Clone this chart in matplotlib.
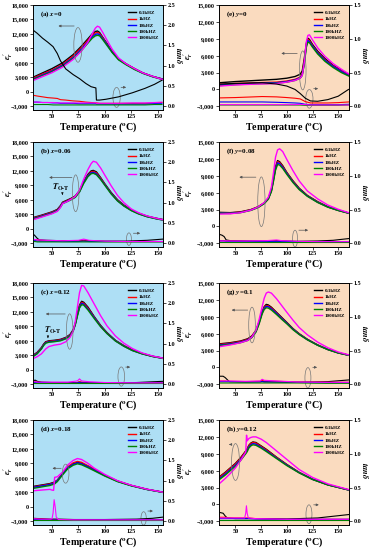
import numpy as np
import matplotlib.pyplot as plt
from matplotlib.patches import Ellipse
from matplotlib.ticker import FuncFormatter, MultipleLocator

plt.rcParams['font.family'] = ['Liberation Serif', 'DejaVu Serif']
plt.rcParams['font.weight'] = 'bold'
plt.rcParams['mathtext.fontset'] = 'stix'
plt.rcParams['axes.linewidth'] = 0.6

freqs = ['0.1kHZ', '1kHZ', '10kHZ', '100kHZ', '1000kHZ']
colors = ['black', 'red', 'blue', 'green', 'magenta']

# ---- (a) x=0
T_a = [32, 40, 50, 60, 70, 78, 84, 88, 91, 93, 95, 98, 102, 107, 113, 120, 128, 136, 145, 155]
eps_a = [
    [3000, 3800, 4800, 6000, 7700, 9500, 11000, 12000, 12500, 12600, 12300, 11300, 10000, 8300, 6800, 5800, 4800, 3900, 3200, 2600],
    [2800, 3600, 4500, 5700, 7400, 9200, 10700, 11700, 12200, 12300, 12100, 11200, 9900, 8250, 6750, 5750, 4780, 3880, 3180, 2590],
    [2600, 3400, 4300, 5500, 7100, 8900, 10400, 11400, 11900, 12000, 11850, 11000, 9800, 8200, 6700, 5700, 4700, 3850, 3150, 2550],
    [2500, 3250, 4150, 5300, 6900, 8600, 10100, 11100, 11600, 11700, 11600, 10800, 9600, 8100, 6600, 5600, 4600, 3800, 3100, 2500],
    [2300, 3050, 3950, 5100, 6700, 8500, 10300, 12000, 13200, 13600, 13400, 12300, 10700, 8800, 7000, 5800, 4800, 3900, 3200, 2500],
]
Tt_a = [32, 36, 41, 46, 51, 55, 58, 63, 70, 76, 82, 87, 91.5, 92, 95, 101, 113, 126, 138, 147, 154]
tan_a = [
    [1.88, 1.80, 1.68, 1.58, 1.47, 1.30, 1.12, 0.92, 0.78, 0.68, 0.56, 0.48, 0.45, 0.15, 0.15, 0.17, 0.23, 0.33, 0.44, 0.54, 0.64],
    [0.27, 0.25, 0.23, 0.21, 0.20, 0.19, 0.16, 0.15, 0.13, 0.12, 0.10, 0.09, 0.08, 0.08, 0.07, 0.07, 0.07, 0.07, 0.07, 0.08, 0.09],
    [0.10, 0.10, 0.09, 0.09, 0.08, 0.08, 0.07, 0.07, 0.07, 0.06, 0.06, 0.06, 0.06, 0.05, 0.05, 0.05, 0.05, 0.05, 0.05, 0.06, 0.06],
    [0.04, 0.04, 0.04, 0.04, 0.03, 0.03, 0.03, 0.03, 0.03, 0.03, 0.03, 0.03, 0.03, 0.03, 0.03, 0.03, 0.03, 0.03, 0.03, 0.04, 0.04],
    [0.10, 0.10, 0.09, 0.09, 0.09, 0.08, 0.08, 0.08, 0.08, 0.08, 0.08, 0.08, 0.08, 0.07, 0.07, 0.07, 0.07, 0.08, 0.08, 0.09, 0.10],
]

# ---- (b) x=0.06
T_b = [32, 40, 50, 55, 58, 60, 64, 68, 72, 76, 80, 84, 87, 89, 92, 96, 100, 106, 112, 118, 125, 132, 140, 148, 155]
eps_b = [
    [2300, 2800, 3500, 4000, 4800, 5500, 5900, 6300, 6800, 7900, 9800, 11300, 12000, 12100, 11800, 10600, 9300, 7500, 6000, 4900, 3900, 3200, 2600, 2200, 1900],
    [2200, 2700, 3400, 3900, 4700, 5400, 5800, 6200, 6700, 7800, 9700, 11100, 11800, 11900, 11600, 10500, 9200, 7400, 5900, 4800, 3850, 3150, 2550, 2150, 1850],
    [2100, 2600, 3300, 3800, 4600, 5300, 5700, 6100, 6600, 7700, 9600, 11000, 11600, 11700, 11400, 10300, 9100, 7300, 5800, 4750, 3800, 3100, 2500, 2100, 1800],
    [2000, 2500, 3200, 3700, 4500, 5200, 5600, 6000, 6500, 7600, 9400, 10800, 11400, 11500, 11200, 10200, 9000, 7200, 5750, 4700, 3750, 3050, 2480, 2080, 1780],
    [1850, 2400, 3100, 3600, 4400, 5200, 5600, 6100, 6700, 8000, 10300, 12300, 13500, 14000, 13800, 12600, 11100, 8900, 6900, 5400, 4100, 3300, 2650, 2200, 1850],
]
Tt_b = [32, 34, 36, 38, 45, 60, 75, 80, 85, 100, 120, 140, 155]
tan_b = [
    [0.23, 0.18, 0.12, 0.08, 0.07, 0.06, 0.06, 0.07, 0.06, 0.05, 0.05, 0.07, 0.10],
    [0.09, 0.08, 0.08, 0.07, 0.06, 0.05, 0.05, 0.06, 0.05, 0.04, 0.04, 0.04, 0.04],
    [0.06, 0.06, 0.05, 0.05, 0.05, 0.04, 0.04, 0.05, 0.04, 0.04, 0.04, 0.04, 0.04],
    [0.04, 0.04, 0.03, 0.03, 0.03, 0.03, 0.03, 0.03, 0.03, 0.03, 0.03, 0.03, 0.03],
    [0.09, 0.09, 0.08, 0.08, 0.07, 0.06, 0.07, 0.10, 0.07, 0.05, 0.04, 0.04, 0.04],
]

# ---- (c) x=0.12
T_c = [32, 36, 40, 42, 44, 47, 52, 58, 63, 67, 70, 72, 74, 76, 78, 80, 84, 90, 96, 102, 110, 118, 126, 135, 145, 155]
eps_c = [
    [3000, 3600, 4600, 5300, 5800, 6000, 6100, 6300, 6700, 7300, 8300, 9600, 11600, 13400, 14200, 14000, 13000, 11000, 9200, 7700, 6100, 5000, 4100, 3400, 2800, 2400],
    [2900, 3500, 4500, 5200, 5700, 5900, 6000, 6200, 6600, 7200, 8200, 9500, 11400, 13200, 14000, 13800, 12800, 10900, 9100, 7600, 6050, 4950, 4050, 3350, 2780, 2380],
    [2800, 3400, 4400, 5100, 5600, 5800, 5900, 6100, 6500, 7100, 8100, 9400, 11300, 13000, 13800, 13600, 12600, 10800, 9000, 7550, 6000, 4900, 4000, 3320, 2760, 2360],
    [2700, 3300, 4300, 5000, 5500, 5700, 5800, 6000, 6400, 7000, 8000, 9300, 11100, 12800, 13500, 13400, 12400, 10600, 8900, 7500, 5950, 4850, 3970, 3300, 2740, 2340],
    [2300, 2700, 3300, 3800, 4300, 4800, 5100, 5300, 5800, 6700, 8000, 10000, 13000, 16000, 17500, 17400, 16000, 13600, 11200, 9100, 7000, 5500, 4400, 3500, 2850, 2400],
]
Tt_c = [32, 34, 36, 40, 50, 65, 74, 76, 78, 85, 100, 130, 155]
tan_c = [
    [0.08, 0.10, 0.07, 0.05, 0.04, 0.04, 0.04, 0.05, 0.04, 0.04, 0.03, 0.04, 0.07],
    [0.06, 0.06, 0.05, 0.04, 0.04, 0.04, 0.04, 0.06, 0.05, 0.04, 0.03, 0.03, 0.03],
    [0.04, 0.04, 0.04, 0.04, 0.03, 0.03, 0.03, 0.04, 0.03, 0.03, 0.03, 0.03, 0.03],
    [0.02, 0.02, 0.02, 0.02, 0.02, 0.02, 0.02, 0.02, 0.02, 0.02, 0.02, 0.02, 0.02],
    [0.06, 0.06, 0.05, 0.05, 0.05, 0.05, 0.08, 0.13, 0.08, 0.06, 0.04, 0.03, 0.03],
]

# ---- (d) x=0.18
T_d = [32, 40, 48, 50, 51.5, 52.5, 55, 60, 65, 70, 74, 78, 84, 90, 100, 112, 125, 140, 155]
eps_d = [
    [4200, 4500, 4800, 4950, 5050, 5150, 5500, 6800, 8100, 8900, 9200, 9000, 8400, 7700, 6500, 5300, 4400, 3600, 3000],
    [4100, 4400, 4700, 4850, 4950, 5050, 5500, 6900, 8300, 9100, 9400, 9200, 8500, 7800, 6550, 5330, 4420, 3610, 3010],
    [4000, 4300, 4600, 4750, 4850, 4950, 5400, 6800, 8100, 8800, 9100, 8900, 8300, 7600, 6450, 5270, 4380, 3580, 2990],
    [3800, 4100, 4400, 4550, 4650, 4750, 5200, 6600, 7900, 8600, 8900, 8700, 8100, 7450, 6350, 5200, 4330, 3550, 2970],
    [3300, 3450, 3600, 3450, 3400, 6100, 6200, 7200, 8700, 9600, 10000, 9800, 9000, 8000, 6700, 5400, 4450, 3620, 3010],
]
Tt_d = [32, 40, 48, 50, 51, 52, 53, 54, 56, 70, 100, 130, 145, 155]
tan_d = [
    [0.07, 0.06, 0.05, 0.05, 0.05, 0.05, 0.05, 0.05, 0.05, 0.04, 0.04, 0.05, 0.07, 0.10],
    [0.05, 0.05, 0.04, 0.04, 0.04, 0.04, 0.04, 0.04, 0.04, 0.04, 0.03, 0.03, 0.03, 0.04],
    [0.04, 0.04, 0.03, 0.03, 0.03, 0.03, 0.03, 0.03, 0.03, 0.03, 0.03, 0.03, 0.03, 0.03],
    [0.02, 0.02, 0.02, 0.02, 0.02, 0.02, 0.02, 0.02, 0.02, 0.02, 0.02, 0.02, 0.02, 0.02],
    [0.06, 0.05, 0.05, 0.06, 0.20, 0.53, 0.35, 0.10, 0.04, 0.03, 0.03, 0.03, 0.03, 0.03],
]

# ---- (e) y=0
T_e = [35, 50, 70, 90, 100, 108, 113, 115, 117, 119, 120.5, 122, 125, 130, 137, 145, 153, 160]
eps_e = [
    [1200, 1400, 1600, 1800, 2000, 2300, 2700, 3300, 5500, 8200, 9100, 8900, 8000, 6800, 5500, 4300, 3400, 2700],
    [900, 1050, 1200, 1300, 1500, 1800, 2200, 2800, 5000, 8000, 8900, 8700, 7800, 6600, 5300, 4200, 3300, 2600],
    [800, 950, 1100, 1200, 1400, 1700, 2100, 2600, 4700, 7800, 8700, 8500, 7700, 6500, 5200, 4100, 3200, 2500],
    [700, 850, 1000, 1100, 1300, 1600, 2000, 2500, 4500, 7500, 8400, 8300, 7500, 6300, 5000, 3900, 3000, 2400],
    [600, 800, 950, 1050, 1300, 1600, 2000, 2500, 4800, 8500, 9600, 9700, 8800, 7400, 5900, 4600, 3600, 2800],
]
Tt_e = [35, 50, 76, 90, 100, 108, 113, 118, 123, 130, 140, 150, 160]
tan_e = [
    [0.33, 0.34, 0.35, 0.33, 0.30, 0.25, 0.19, 0.12, 0.08, 0.075, 0.10, 0.15, 0.25],
    [0.125, 0.13, 0.145, 0.14, 0.13, 0.12, 0.11, 0.07, 0.05, 0.05, 0.05, 0.055, 0.065],
    [0.065, 0.065, 0.065, 0.06, 0.055, 0.05, 0.045, 0.03, 0.025, 0.025, 0.025, 0.025, 0.03],
    [0.02, 0.02, 0.02, 0.02, 0.02, 0.02, 0.02, 0.015, 0.015, 0.015, 0.015, 0.015, 0.02],
    [0.025, 0.025, 0.025, 0.025, 0.025, 0.025, 0.03, 0.025, 0.02, 0.02, 0.02, 0.02, 0.02],
]

# ---- (f) y=0.08
T_f = [35, 45, 55, 65, 72, 78, 82, 85, 87, 89, 91, 93, 96, 100, 106, 112, 120, 130, 140, 150, 160]
eps_f = [
    [2500, 2450, 2600, 3000, 3500, 4200, 5000, 6500, 8500, 10600, 11700, 11500, 10800, 9600, 8100, 6800, 5500, 4400, 3500, 2900, 2400],
    [2450, 2400, 2550, 2950, 3450, 4150, 4950, 6400, 8400, 10400, 11500, 11350, 10650, 9500, 8000, 6700, 5450, 4350, 3470, 2870, 2380],
    [2400, 2350, 2500, 2900, 3400, 4100, 4900, 6300, 8200, 10200, 11300, 11150, 10500, 9400, 7900, 6650, 5400, 4300, 3450, 2850, 2370],
    [2350, 2300, 2450, 2850, 3350, 4050, 4850, 6200, 8000, 10000, 11000, 10900, 10300, 9250, 7800, 6550, 5350, 4250, 3420, 2830, 2350],
    [2200, 2250, 2450, 2900, 3450, 4250, 5200, 7000, 9500, 12300, 13600, 13800, 13300, 11900, 9900, 8100, 6300, 4900, 3800, 3050, 2450],
]
Tt_f = [35, 37, 39, 41, 45, 60, 80, 90, 95, 110, 130, 145, 160]
tan_f = [
    [0.13, 0.12, 0.10, 0.05, 0.04, 0.035, 0.035, 0.04, 0.035, 0.03, 0.035, 0.045, 0.07],
    [0.04, 0.04, 0.04, 0.035, 0.035, 0.03, 0.03, 0.035, 0.03, 0.025, 0.025, 0.025, 0.025],
    [0.035, 0.035, 0.035, 0.03, 0.03, 0.03, 0.03, 0.03, 0.03, 0.025, 0.025, 0.025, 0.025],
    [0.015, 0.015, 0.015, 0.015, 0.015, 0.015, 0.015, 0.015, 0.015, 0.015, 0.015, 0.015, 0.015],
    [0.035, 0.035, 0.035, 0.035, 0.035, 0.035, 0.04, 0.05, 0.04, 0.03, 0.025, 0.025, 0.025],
]

# ---- (g) y=0.1
T_g = [35, 45, 55, 62, 66, 70, 73, 76, 78, 80, 82, 85, 90, 95, 100, 106, 112, 120, 130, 140, 150, 160]
eps_g = [
    [4200, 4400, 4700, 5100, 5600, 6600, 8100, 9900, 10800, 11200, 11100, 10700, 9800, 8900, 8000, 6900, 6000, 5000, 4000, 3200, 2600, 2200],
    [4100, 4300, 4600, 5000, 5500, 6500, 8000, 9800, 10650, 11000, 10950, 10550, 9700, 8800, 7900, 6850, 5950, 4970, 3980, 3190, 2590, 2190],
    [4000, 4200, 4500, 4900, 5400, 6400, 7900, 9700, 10500, 10850, 10800, 10400, 9600, 8700, 7850, 6800, 5900, 4940, 3960, 3180, 2580, 2180],
    [3900, 4100, 4400, 4800, 5300, 6300, 7700, 9500, 10300, 10600, 10550, 10200, 9400, 8550, 7750, 6700, 5850, 4900, 3930, 3160, 2570, 2170],
    [3700, 4000, 4400, 4800, 5400, 6600, 8500, 10800, 12300, 13200, 13400, 13200, 12200, 11000, 9800, 8400, 7100, 5800, 4500, 3500, 2750, 2250],
]
Tt_g = [35, 38, 40, 42, 44, 60, 74, 76, 78, 90, 110, 140, 160]
tan_g = [
    [0.12, 0.12, 0.10, 0.07, 0.04, 0.035, 0.04, 0.045, 0.04, 0.035, 0.03, 0.04, 0.065],
    [0.05, 0.05, 0.05, 0.045, 0.045, 0.04, 0.045, 0.06, 0.05, 0.045, 0.035, 0.03, 0.03],
    [0.04, 0.04, 0.04, 0.04, 0.04, 0.035, 0.035, 0.04, 0.035, 0.035, 0.03, 0.025, 0.025],
    [0.02, 0.02, 0.02, 0.02, 0.02, 0.02, 0.02, 0.02, 0.02, 0.02, 0.02, 0.015, 0.015],
    [0.05, 0.05, 0.05, 0.05, 0.05, 0.045, 0.05, 0.075, 0.06, 0.05, 0.035, 0.03, 0.03],
]

# ---- (h) y=0.12
T_h = [35, 40, 45, 50, 55, 60, 60.8, 61.5, 63, 65, 67, 70, 75, 80, 90, 100, 112, 125, 140, 160]
eps_h = [
    [5000, 5700, 6500, 7300, 8300, 9500, 9700, 9900, 10500, 10900, 11100, 11000, 10400, 9800, 8400, 7100, 5700, 4500, 3500, 2600],
    [4900, 5600, 6400, 7200, 8200, 9400, 9600, 9800, 10400, 10800, 11000, 10900, 10300, 9700, 8350, 7050, 5680, 4480, 3490, 2590],
    [4700, 5400, 6200, 7000, 8000, 9200, 9400, 9600, 10200, 10600, 10800, 10700, 10150, 9550, 8250, 7000, 5650, 4460, 3480, 2580],
    [4500, 5200, 6000, 6800, 7800, 9000, 9200, 9400, 10000, 10400, 10600, 10500, 10000, 9400, 8150, 6900, 5600, 4430, 3460, 2570],
    [3800, 4600, 5500, 6500, 7800, 9300, 12300, 11300, 11700, 11900, 12000, 12000, 11600, 11000, 9500, 8000, 6200, 4800, 3650, 2650],
]
Tt_h = [35, 38, 40, 42, 50, 59, 60, 60.7, 61.4, 62.5, 70, 100, 130, 160]
tan_h = [
    [0.13, 0.12, 0.08, 0.05, 0.04, 0.04, 0.04, 0.04, 0.04, 0.04, 0.04, 0.035, 0.05, 0.10],
    [0.06, 0.06, 0.06, 0.05, 0.05, 0.05, 0.05, 0.05, 0.05, 0.05, 0.04, 0.03, 0.03, 0.03],
    [0.04, 0.04, 0.04, 0.04, 0.04, 0.04, 0.04, 0.04, 0.04, 0.04, 0.035, 0.03, 0.03, 0.03],
    [0.02, 0.02, 0.02, 0.02, 0.02, 0.02, 0.02, 0.02, 0.02, 0.02, 0.02, 0.02, 0.02, 0.02],
    [0.05, 0.05, 0.05, 0.05, 0.05, 0.05, 0.12, 0.23, 0.12, 0.05, 0.04, 0.03, 0.03, 0.03],
]

# panel: label, composition, data, column, top px, ellipse/arrow marks (axes fraction)
panels = [
    ('(a)', 'x', '0', T_a, eps_a, Tt_a, tan_a, 0, 5,
     [(0.346, 0.62, 0.064, 0.33), (0.643, 0.12, 0.056, 0.19)],
     [(0.338, 0.174, 0.80), (0.656, 0.738, 0.216)], None),
    ('(b)', 'x', '0.06', T_b, eps_b, Tt_b, tan_b, 0, 142,
     [(0.328, 0.512, 0.051, 0.35), (0.738, 0.075, 0.038, 0.119)],
     [(0.321, 0.103, 0.662), (0.751, 0.846, 0.131)], (0.213, 0.57, 0.226, 0.53, 0.47)),
    ('(c)', 'x', '0.12', T_c, eps_c, Tt_c, tan_c, 0, 283,
     [(0.282, 0.538, 0.051, 0.337), (0.679, 0.109, 0.051, 0.183)],
     [(0.269, 0.077, 0.705), (0.692, 0.769, 0.199)], (0.149, 0.545, 0.115, 0.506, 0.449)),
    ('(d)', 'x', '0.18', T_d, eps_d, Tt_d, tan_d, 0, 420,
     [(0.251, 0.489, 0.051, 0.181), (0.851, 0.063, 0.041, 0.127)],
     [(0.238, 0.128, 0.54), (0.862, 0.944, 0.133)], None),
    ('(e)', 'y', '0', T_e, eps_e, Tt_e, tan_e, 1, 5,
     [(0.644, 0.377, 0.051, 0.371), (0.695, 0.106, 0.056, 0.177)],
     [(0.623, 0.458, 0.539), (0.707, 0.784, 0.203)], None),
    ('(f)', 'y', '0.08', T_f, eps_f, Tt_f, tan_f, 1, 142,
     [(0.326, 0.431, 0.056, 0.473), (0.585, 0.08, 0.038, 0.16)],
     [(0.305, 0.135, 0.665), (0.593, 0.707, 0.16)], None),
    ('(g)', 'y', '0.1', T_g, eps_g, Tt_g, tan_g, 1, 283,
     [(0.254, 0.6, 0.051, 0.339), (0.684, 0.097, 0.046, 0.194)],
     [(0.242, 0.076, 0.742), (0.70, 0.776, 0.197)], None),
    ('(h)', 'y', '0.12', T_h, eps_h, Tt_h, tan_h, 1, 420,
     [(0.127, 0.6, 0.061, 0.351), (0.692, 0.102, 0.046, 0.18)],
     [(0.109, 0.056, 0.767), (0.707, 0.789, 0.192)], None),
]

fig = plt.figure(figsize=(3.72, 5.5), dpi=100)
W, H = 372.0, 550.0
fmt = FuncFormatter(lambda v, p: f'{v:,.0f}'.replace('-', '\u2212'))

for (lab, var, val, T, eps, Tt, tan, col, top, ells, arrs, tot) in panels:
    left = 33 if col == 0 else 219
    ax = fig.add_axes([left / W, 1 - (top + 105) / H, 130 / W, 105 / H])
    ax2 = ax.twinx()
    if col == 0:
        ax.set_facecolor('#aedff5')
        ax.set_xlim(32, 155)
        ax.set_ylim(-3800, 18000)
        ax2.set_ylim(-800 / 8400, 2.5)
    else:
        ax.set_facecolor('#fadbbf')
        ax.set_xlim(34, 160.5)
        ax.set_ylim(-3650, 15000)
        ax2.set_ylim(-650 / 12000, 1.5)
    ax.yaxis.set_major_locator(MultipleLocator(3000))
    ax2.yaxis.set_major_locator(MultipleLocator(0.5))
    ax.xaxis.set_major_locator(MultipleLocator(25))
    ax.yaxis.set_major_formatter(fmt)
    ax2.yaxis.set_major_formatter(FuncFormatter(lambda v, p: f'{v:.1f}'))

    for i in range(5):
        ax.plot(T, eps[i], color=colors[i], lw=1.0, label=freqs[i])
        ax2.plot(Tt, tan[i], color=colors[i], lw=0.8)

    for a in (ax, ax2):
        a.tick_params(direction='out', length=2, width=0.5, pad=1.2, labelsize=4.4)
        for s in a.spines.values():
            s.set_linewidth(0.6)

    ax.set_xlabel(r'Temperature ($\mathbf{^{o}}$C)', fontsize=7.2, fontweight='bold', labelpad=1)
    # axis titles placed by hand so neighbouring panels do not collide
    ax.text(-0.19 if col == 0 else -0.235, 0.52, r"$\varepsilon_r'$", transform=ax.transAxes,
            fontsize=6.2, rotation=90, ha='center', va='center')
    ax.text(1.125 if col == 0 else 1.12, 0.52, r'$tan\delta$', transform=ax.transAxes,
            fontsize=6.2, rotation=270, ha='center', va='center')

    ax.text(0.05, 0.96, lab + ' ' + r'$\mathit{' + var + '}$=' + val, transform=ax.transAxes,
            fontsize=5, fontweight='bold', va='top', ha='left')

    ax.legend(loc='upper left', bbox_to_anchor=(0.70, 0.98), frameon=False, fontsize=3.6,
              handlelength=1.7, handletextpad=0.6, labelspacing=0.35, borderpad=0.2)

    for (cx, cy, ew, eh) in ells:
        ax2.add_patch(Ellipse((cx, cy), ew, eh, transform=ax.transAxes, fill=False,
                              edgecolor='#777777', lw=0.5))
    for (x0, x1, y) in arrs:
        ax2.annotate('', xy=(x1, y), xytext=(x0, y), xycoords='axes fraction',
                     arrowprops=dict(arrowstyle='-|>', color='#555555', lw=0.5, mutation_scale=3.5))
    if tot is not None:
        tx, ty, axx, ay0, ay1 = tot
        ax2.text(tx, ty, r'$T_{\rm O\text{-}T}$', transform=ax.transAxes, fontsize=6,
                 ha='center', va='center')
        ax2.annotate('', xy=(axx, ay1), xytext=(axx, ay0), xycoords='axes fraction',
                     arrowprops=dict(arrowstyle='-|>', color='black', lw=0.4, mutation_scale=3))

fig.savefig('out.png', dpi=100)
